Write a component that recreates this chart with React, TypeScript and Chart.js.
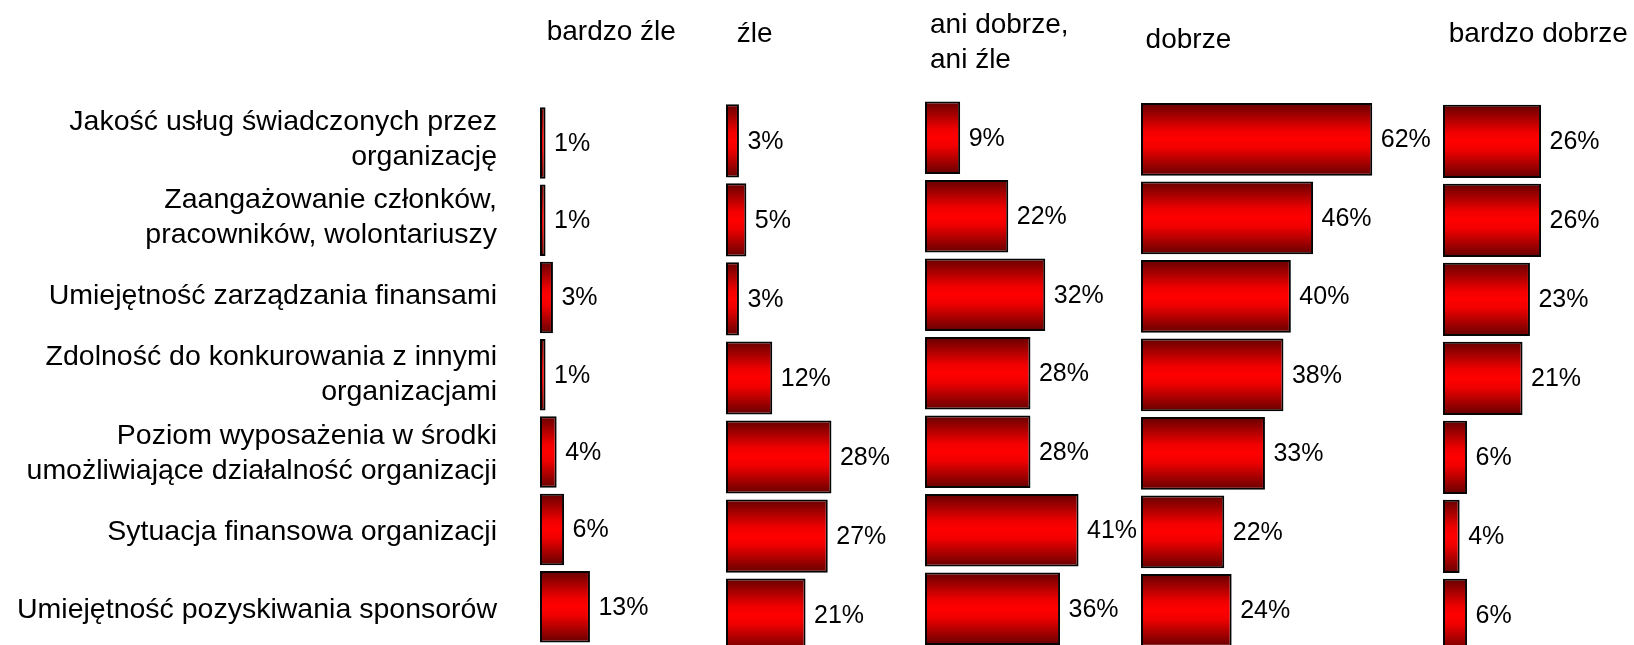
import React, { useEffect, useRef } from 'react';
import { Chart, registerables } from 'chart.js';

Chart.register(...registerables);

// ---------- data ----------
const categories: string[][] = [
  ['Jakość usług świadczonych przez', 'organizację'],
  ['Zaangażowanie członków,', 'pracowników, wolontariuszy'],
  ['Umiejętność zarządzania finansami'],
  ['Zdolność do konkurowania z innymi', 'organizacjami'],
  ['Poziom wyposażenia w środki', 'umożliwiające działalność organizacji'],
  ['Sytuacja finansowa organizacji'],
  ['Umiejętność pozyskiwania sponsorów'],
];

const ratingTitles: string[][] = [
  ['bardzo źle'],
  ['źle'],
  ['ani dobrze,', 'ani źle'],
  ['dobrze'],
  ['bardzo dobrze'],
];

const bardzoZle = [1, 1, 3, 1, 4, 6, 13];
const zle = [3, 5, 3, 12, 28, 27, 21];
const aniDobrzeAniZle = [9, 22, 32, 28, 28, 41, 36];
const dobrze = [62, 46, 40, 38, 33, 22, 24];
const bardzoDobrze = [26, 26, 23, 21, 6, 4, 6];

const seriesValues = [bardzoZle, zle, aniDobrzeAniZle, dobrze, bardzoDobrze];

// ---------- layout (not data) ----------
const W = 1760;
const H = 700;
const PX_PER_UNIT = 3.7;
const X_MIN = -0.5;
const X_MAX = 70;
const BAR_FRAC = 0.925;
const panelLeft = [540, 726, 925, 1141, 1443];
const panelTop = [104.25, 101.3, 98.55, 100.15, 101.85];
const panelPitch = [77.3, 79.05, 78.5, 78.5, 79];
const titleDx = [6.7, 10.7, 5, 4.6, 5.8];
const titleBaseline = [40, 42.3, 33.3, 48.3, 41.7];
const TITLE_LINE = 35;
const LABEL_PANEL = 3; // panel whose y axis carries the category labels
const LABEL_RIGHT = 497;
const FONT = '"Liberation Sans", Arial, sans-serif';

Chart.defaults.font.family = FONT;

function makeConfig(p: number): any {
  const areaW = (X_MAX - X_MIN) * PX_PER_UNIT;
  const areaH = panelPitch[p] * categories.length;
  const showLabels = p === LABEL_PANEL;
  const x0 = panelLeft[p];

  const overlay = {
    id: 'overlay' + p,
    afterDatasetsDraw(chart: any) {
      const ctx = chart.ctx;
      const meta = chart.getDatasetMeta(0);
      ctx.save();
      ctx.fillStyle = '#000';
      ctx.font = `25px ${FONT}`;
      ctx.textAlign = 'left';
      ctx.textBaseline = 'middle';
      meta.data.forEach((el: any, i: number) => {
        ctx.fillText(seriesValues[p][i] + '%', el.x + 8.5, el.y + 1);
      });
      ctx.font = `28px ${FONT}`;
      ctx.textBaseline = 'alphabetic';
      ratingTitles[p].forEach((line, i) => {
        ctx.fillText(line, chart.chartArea.left + titleDx[p], titleBaseline[p] + i * TITLE_LINE);
      });
      ctx.restore();
    },
  };

  return {
    type: 'bar',
    data: {
      labels: categories,
      datasets: [
        {
          data: seriesValues[p],
          base: X_MIN,
          borderColor: '#050505',
          borderWidth: 2,
          borderSkipped: false,
          barPercentage: BAR_FRAC,
          categoryPercentage: 1,
          backgroundColor: (c: any) => {
            const chart = c.chart;
            const ys = chart.scales && chart.scales.y;
            if (!ys || c.dataIndex === undefined || !chart.chartArea) return '#ff0000';
            const center = ys.getPixelForValue(c.dataIndex);
            const half = (ys.height / categories.length) * BAR_FRAC / 2;
            const g = chart.ctx.createLinearGradient(0, center - half, 0, center + half);
            g.addColorStop(0, '#660000');
            g.addColorStop(0.38, '#f00000');
            g.addColorStop(0.5, '#ff0000');
            g.addColorStop(0.62, '#f00000');
            g.addColorStop(1, '#660000');
            return g;
          },
        },
      ],
    },
    options: {
      indexAxis: 'y',
      animation: false,
      responsive: false,
      devicePixelRatio: 1,
      layout: {
        padding: {
          left: showLabels ? 0 : x0,
          right: W - x0 - areaW,
          top: panelTop[p],
          bottom: H - panelTop[p] - areaH,
        },
      },
      plugins: {
        legend: { display: false },
        tooltip: { enabled: false },
        title: { display: false },
      },
      scales: {
        x: { type: 'linear', min: X_MIN, max: X_MAX, display: false },
        y: {
          type: 'category',
          display: showLabels,
          grid: { display: false, drawTicks: false },
          border: { display: false },
          ticks: {
            color: '#000',
            padding: x0 - LABEL_RIGHT,
            font: { size: 28.5, lineHeight: 1.23, family: FONT },
          },
          afterFit: (s: any) => {
            if (!showLabels) return;
            s.width = x0;
            s.paddingTop = 0;
            s.paddingBottom = 0;
          },
        },
      },
    },
    plugins: [overlay],
  };
}

function Panel({ p }: { p: number }) {
  const ref = useRef<HTMLCanvasElement>(null);
  useEffect(() => {
    const chart = new Chart(ref.current as HTMLCanvasElement, makeConfig(p));
    return () => chart.destroy();
  }, [p]);
  return (
    <canvas
      ref={ref}
      width={W}
      height={H}
      style={{ position: 'absolute', left: 0, top: 0, width: W, height: H }}
    />
  );
}

export default function App() {
  return (
    <div
      style={{
        position: 'fixed',
        left: 0,
        top: 0,
        width: 1634,
        height: 645,
        overflow: 'hidden',
        background: '#fff',
      }}
    >
      {seriesValues.map((_, p) => (
        <Panel key={p} p={p} />
      ))}
    </div>
  );
}
